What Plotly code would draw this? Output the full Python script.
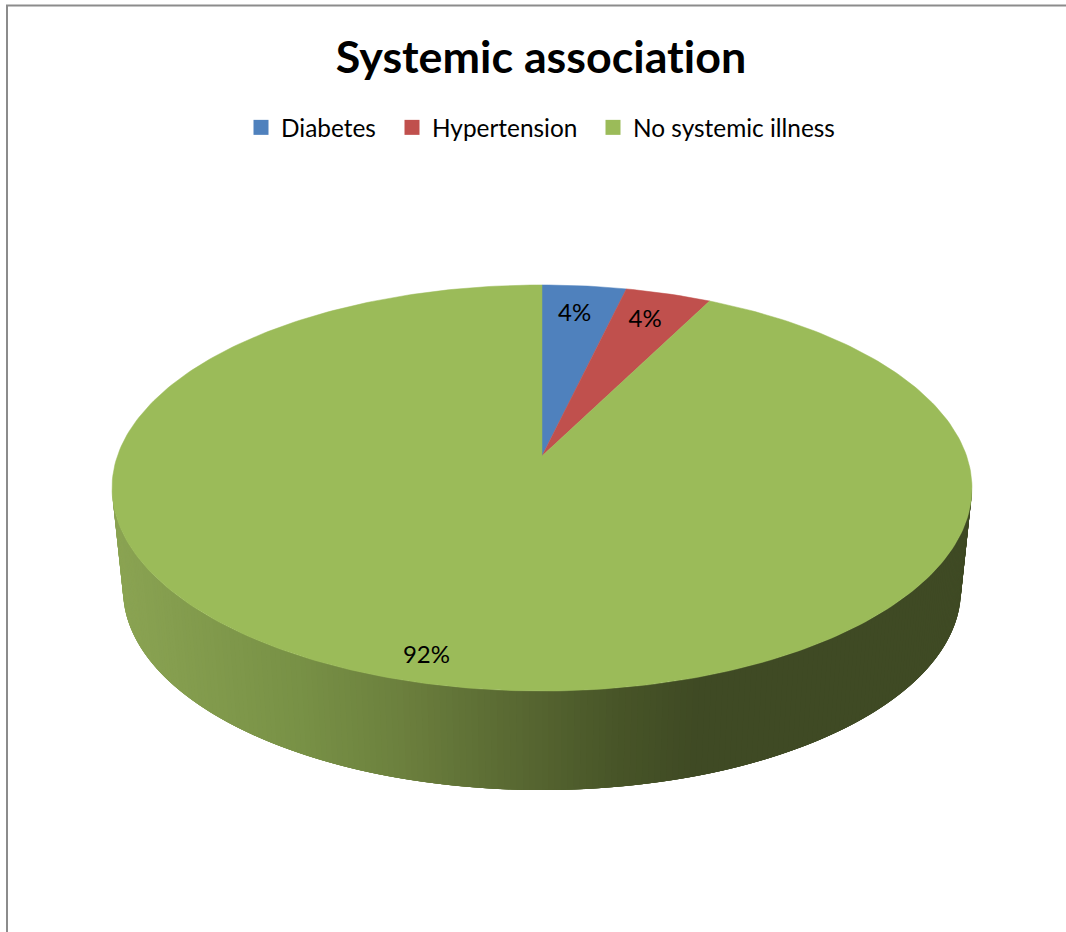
import numpy as np
import plotly.graph_objects as go

# Chart content
title_text = "Systemic association"
categories = ["Diabetes", "Hypertension", "No systemic illness"]
percentages = [4, 4, 92]
slice_colors = ["#4F81BD", "#C0504D", "#9BBB59"]

# Tilted-disc projection, in page pixels
CX = 542.0
TOP_APEX_Y, TOP_A, TOP_B = 456.0, 424.6, 198.0
BASE_APEX_Y, BASE_A, BASE_B = 558.6, 413.7, 195.0
K = 0.1576          # perspective strength
SKEW = 0.042        # azimuth foreshortening of the seams

# Label placement: radial fraction and pixel nudge per slice
label_radius = [0.85, 0.83, 0.90]
label_nudge = [(-4, 7), (-4, 3), (-14, 0)]

# Side wall shading stops (page x -> rgb)
shade_x = [112, 300, 400, 540, 620, 700, 972]
shade_r = [139, 120, 108, 85, 72, 63, 63]
shade_g = [164, 145, 128, 100, 85, 74, 74]
shade_b = [83, 70, 62, 48, 40, 36, 36]


def project(theta, rho=1.0, apex_y=TOP_APEX_Y, a=TOP_A, b=TOP_B):
    """Disc point at clockwise angle theta from 12 o'clock to page pixels."""
    w = 1 + K * rho * np.cos(theta)
    return CX + a * rho * np.sin(theta) / w, apex_y - b * rho * np.cos(theta) / w


def seam(fraction):
    theta = 2 * np.pi * fraction
    return theta - SKEW * np.sin(2 * theta)


fig = go.Figure()

# Side wall: bands painted left to right between the two silhouette tangents,
# each one overlapping the next few so no seams show between them
tangent = np.arccos(-K)
edges = np.linspace(2 * np.pi - tangent, tangent, 221)
OVERLAP = 4
for i in range(len(edges) - 1):
    span = edges[i:min(i + 1 + OVERLAP, len(edges))]
    tx, ty = project(span)
    bx, by = project(span, apex_y=BASE_APEX_Y, a=BASE_A, b=BASE_B)
    mid = (project(edges[i])[0] + project(edges[i + 1])[0]) / 2
    col = "rgb(%d,%d,%d)" % (
        np.interp(mid, shade_x, shade_r),
        np.interp(mid, shade_x, shade_g),
        np.interp(mid, shade_x, shade_b),
    )
    fig.add_trace(go.Scatter(
        x=np.r_[tx, bx[::-1], tx[0]], y=np.r_[ty, by[::-1], ty[0]],
        mode="lines", fill="toself", fillcolor=col,
        line=dict(width=0),
        showlegend=False, hoverinfo="skip",
    ))

# Top face slices
total = sum(percentages)
bounds = np.cumsum([0] + percentages) / total
for i, name in enumerate(categories):
    n = max(4, int(360 * (bounds[i + 1] - bounds[i])))
    arc = seam(np.linspace(bounds[i], bounds[i + 1], n))
    ax, ay = project(arc)
    apex_x, apex_y = project(0.0, rho=0.0)
    fig.add_trace(go.Scatter(
        x=np.r_[apex_x, ax, apex_x], y=np.r_[apex_y, ay, apex_y],
        mode="lines", fill="toself", fillcolor=slice_colors[i],
        line=dict(color=slice_colors[i], width=0.5),
        name=name, showlegend=False, hoverinfo="name",
    ))

# Percentage labels on the slices
for i, value in enumerate(percentages):
    lx, ly = project(seam((bounds[i] + bounds[i + 1]) / 2), rho=label_radius[i])
    fig.add_trace(go.Scatter(
        x=[lx + label_nudge[i][0]], y=[ly + label_nudge[i][1]],
        mode="text", text=[f"{value}%"], textposition="middle center",
        textfont=dict(family="Lato", size=24, color="#000000"),
        showlegend=False, hoverinfo="skip",
    ))

# One single-entry legend per category so the spacing can be set freely
legend_ids = ["legend", "legend2", "legend3"]
legend_left = [241, 392, 593]
for i, name in enumerate(categories):
    fig.add_trace(go.Scatter(
        x=[None], y=[None], mode="markers", name=name, legend=legend_ids[i],
        marker=dict(symbol="square", size=15, color=slice_colors[i]),
    ))

legend_layouts = {
    lid: dict(
        x=left / 1066, y=1 - 127.5 / 932, xanchor="left", yanchor="middle",
        bgcolor="rgba(0,0,0,0)", borderwidth=0, itemclick=False,
        font=dict(family="Lato", size=24.4, color="#000000"),
    )
    for lid, left in zip(legend_ids, legend_left)
}

fig.update_layout(
    width=1066, height=932, autosize=False,
    margin=dict(l=0, r=0, t=0, b=0),
    paper_bgcolor="#FFFFFF", plot_bgcolor="#FFFFFF",
    title=dict(
        # Lato would otherwise join the "ti" pair into one glyph
        text=f'<span style="font-variant-ligatures:none">{title_text}</span>',
        x=541 / 1066, xanchor="center",
        y=1 - 57 / 932, yanchor="middle",
        font=dict(family="Lato", size=44.8, color="#000000", weight="bold"),
    ),
    xaxis=dict(range=[0, 1066], visible=False, fixedrange=True),
    yaxis=dict(range=[932, 0], visible=False, fixedrange=True),
    shapes=[
        dict(type="line", x0=7, x1=7, y0=5, y1=932,
             line=dict(color="#8C8C8C", width=2)),
        dict(type="line", x0=6, x1=1066, y0=5.5, y1=5.5,
             line=dict(color="#8C8C8C", width=2)),
    ],
    **legend_layouts,
)

fig.write_html("out.html", config=dict(displayModeBar=False))
